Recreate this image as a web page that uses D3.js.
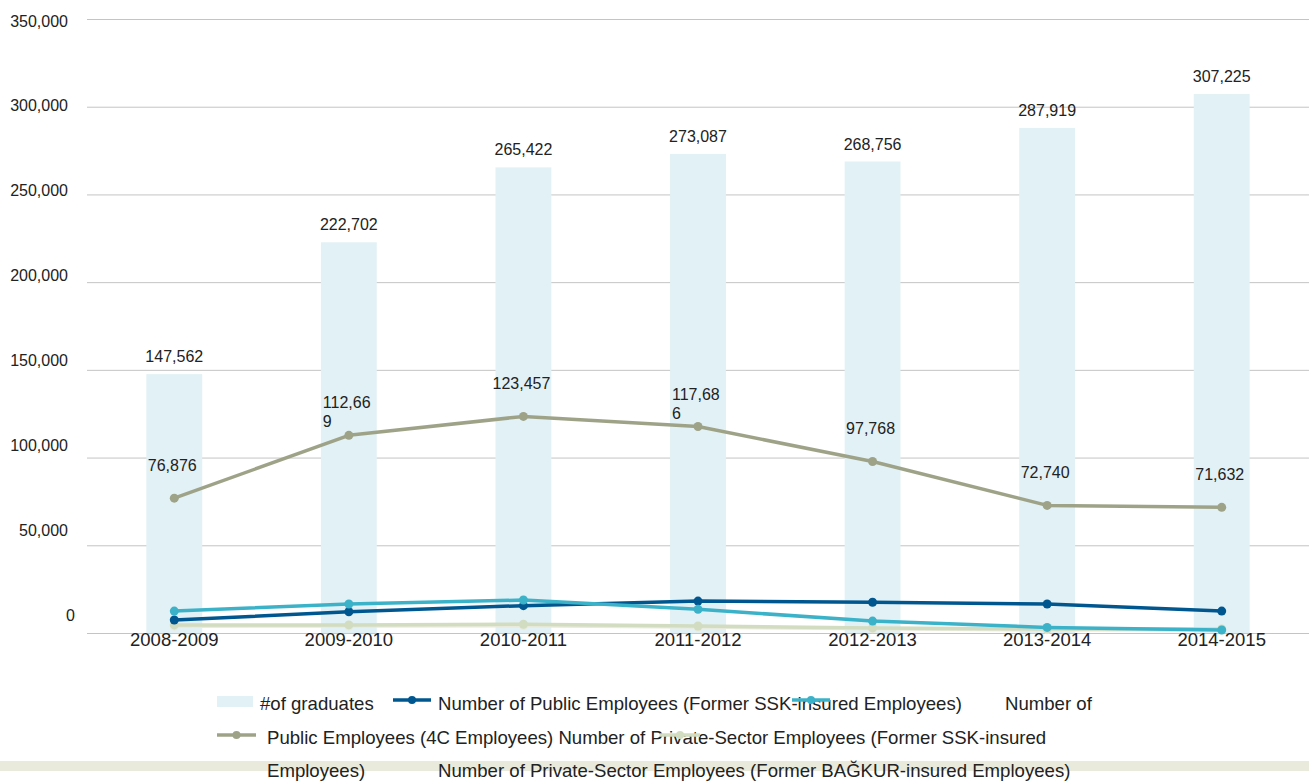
<!DOCTYPE html>
<html>
<head>
<meta charset="utf-8">
<script src="https://cdn.jsdelivr.net/npm/d3@7"></script>
<style>
  html, body { margin: 0; padding: 0; background: #fff; }
  svg { display: block; font-family: "Liberation Sans", Arial, sans-serif; }
</style>
</head>
<body>
<svg id="chart" width="1309" height="781"></svg>
<script>
// ---- DATA ----
const categories = ["2008-2009", "2009-2010", "2010-2011", "2011-2012", "2012-2013", "2013-2014", "2014-2015"];
const graduates = [147562, 222702, 265422, 273087, 268756, 287919, 307225];
const publicSSK = [7400, 12100, 15600, 18200, 17500, 16500, 12500];
const public4C = [76876, 112669, 123457, 117686, 97768, 72740, 71632];
const privateSSK = [12500, 16500, 18800, 13500, 6800, 3200, 1700];
const privateSSKPale = [4600, 4600, 5000, 4000, 2900, 2300, 2300];
const privateBagkur = [3900, 4000, 4200, 3400, 2400, 1800, 1700];
const yTicks = [0, 50000, 100000, 150000, 200000, 250000, 300000, 350000];
const wrapped4CLabels = [false, true, false, true, false, false, false];

const seriesNames = [
  "#of graduates",
  "Number of Public Employees (Former SSK-insured Employees)",
  "Number of Public Employees (4C Employees)",
  "Number of Private-Sector Employees (Former SSK-insured Employees)",
  "Number of Private-Sector Employees (Former BAĞKUR-insured Employees)"
];

// ---- STYLE ----
const colors = {
  bar: "#e2f1f5",
  grid: "#c4c4c4",
  text: "#222",
  blue: "#00578f",
  cyan: "#3cb2c9",
  gray: "#9ea388",
  pale: "#d2dcc0",
  band: "#e9eadc"
};

const svg = d3.select("#chart");
const W = 1309, H = 781;
const mLeft = 87, mRight = 1309, mTop = 19, mBottom = 633;

const x = d3.scaleBand().domain(categories).range([mLeft, mRight]).padding(0);
const y = d3.scaleLinear().domain([0, 350000]).range([mBottom, mTop]);
const yLabel = d3.scaleLinear().domain([0, 350000]).range([615, 21]);
const fmt = d3.format(",");
const cx = c => x(c) + x.bandwidth() / 2;
const barW = x.bandwidth() * 0.32;

// gridlines
svg.append("g").selectAll("line").data(yTicks).join("line")
  .attr("x1", mLeft).attr("x2", mRight)
  .attr("y1", d => y(d) + 0.5).attr("y2", d => y(d) + 0.5)
  .attr("stroke", colors.grid).attr("stroke-width", 1);

// y tick labels
svg.append("g").selectAll("text").data(yTicks).join("text")
  .attr("x", d => d === 0 ? 75 : 68)
  .attr("y", d => yLabel(d))
  .attr("dy", "0.35em")
  .attr("text-anchor", "end")
  .attr("font-size", 16)
  .attr("fill", colors.text)
  .text(d => fmt(d));

// bars
svg.append("g").selectAll("rect").data(graduates).join("rect")
  .attr("x", (d, i) => cx(categories[i]) - barW / 2)
  .attr("width", barW)
  .attr("y", d => y(d))
  .attr("height", d => y(0) - y(d))
  .attr("fill", colors.bar);

// bar labels
svg.append("g").selectAll("text").data(graduates).join("text")
  .attr("x", (d, i) => cx(categories[i]))
  .attr("y", d => y(d) - 12)
  .attr("text-anchor", "middle")
  .attr("font-size", 16)
  .attr("fill", colors.text)
  .text(d => fmt(d));

// x axis labels
svg.append("g").selectAll("text").data(categories).join("text")
  .attr("x", d => cx(d))
  .attr("y", 646)
  .attr("text-anchor", "middle")
  .attr("font-size", 18.5)
  .attr("fill", colors.text)
  .text(d => d);

// lines
const line = d3.line().x((d, i) => cx(categories[i])).y(d => y(d));
function drawSeries(vals, color) {
  const g = svg.append("g");
  g.append("path").datum(vals)
    .attr("d", line).attr("fill", "none")
    .attr("stroke", color).attr("stroke-width", 3.5)
    .attr("stroke-linejoin", "round");
  g.selectAll("circle").data(vals).join("circle")
    .attr("cx", (d, i) => cx(categories[i]))
    .attr("cy", d => y(d)).attr("r", 4.5)
    .attr("fill", color);
}
drawSeries(privateBagkur, colors.band);
drawSeries(privateSSKPale, colors.pale);
drawSeries(publicSSK, colors.blue);
drawSeries(privateSSK, colors.cyan);
drawSeries(public4C, colors.gray);

// 4C labels
const lab = svg.append("g").attr("font-size", 16).attr("fill", colors.text);
public4C.forEach((v, i) => {
  const s = fmt(v);
  const px = cx(categories[i]), py = y(v);
  if (wrapped4CLabels[i]) {
    const t = lab.append("text").attr("x", px - 26).attr("y", py - 27).attr("text-anchor", "start");
    t.append("tspan").text(s.slice(0, 6));
    t.append("tspan").attr("x", px - 26).attr("dy", 19).text(s.slice(6));
  } else {
    lab.append("text").attr("x", px - 2).attr("y", py - 27).attr("text-anchor", "middle").text(s);
  }
});

// ---- LEGEND (reproducing the reference's wrapped layout) ----
const leg = svg.append("g").attr("font-size", 18.6).attr("fill", colors.text);
leg.append("rect").attr("x", 0).attr("y", 761).attr("width", W).attr("height", 10).attr("fill", colors.band);
leg.append("rect").attr("x", 217).attr("y", 696).attr("width", 36).attr("height", 11).attr("fill", colors.bar);

function legLine(x1, x2, yy, color) {
  leg.append("line").attr("x1", x1).attr("x2", x2).attr("y1", yy).attr("y2", yy)
    .attr("stroke", color).attr("stroke-width", 3.5);
  leg.append("circle").attr("cx", (x1 + x2) / 2).attr("cy", yy).attr("r", 4).attr("fill", color);
}

const t1 = seriesNames[2].split(" ");
const t3 = seriesNames[3];
const cut3 = t3.lastIndexOf(" ");
const legendTexts = [
  { x: 260, y: 703, t: seriesNames[0] },
  { x: 438, y: 703, t: seriesNames[1] },
  { x: 1005, y: 703, t: t1.slice(0, 2).join(" ") },
  { x: 267, y: 737, t: t1.slice(2).join(" ") + " " + t3.slice(0, cut3) },
  { x: 267, y: 770, t: t3.slice(cut3 + 1) },
  { x: 438, y: 770, t: seriesNames[4] }
];
leg.selectAll("text").data(legendTexts).join("text")
  .attr("x", d => d.x).attr("y", d => d.y).attr("dy", "0.35em")
  .text(d => d.t);

legLine(393, 431, 700, colors.blue);
legLine(217, 256, 735, colors.gray);
legLine(792, 830, 700, colors.cyan);
legLine(660, 700, 735, colors.pale);
</script>
</body>
</html>
